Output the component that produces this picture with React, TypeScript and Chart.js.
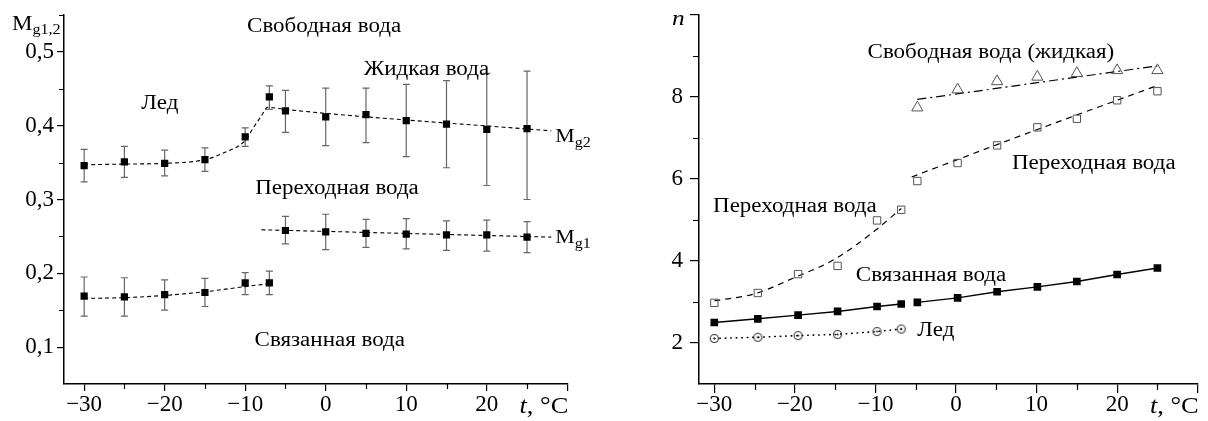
import React, { useEffect, useRef } from "react";
import { Chart, registerables } from "chart.js";

Chart.register(...registerables);

const FONT = '"Liberation Serif", "Times New Roman", serif';

// ---------- Left panel data (M_g1, M_g2 vs t) ----------
const tempAll = [-30, -25, -20, -15, -10, -7, -5, 0, 5, 10, 15, 20, 25];
const mg2 = [0.346, 0.351, 0.349, 0.354, 0.385, 0.439, 0.42, 0.412, 0.415, 0.407, 0.402, 0.395, 0.396];
const mg2Hi = [0.368, 0.372, 0.367, 0.37, 0.397, 0.454, 0.448, 0.451, 0.451, 0.456, 0.461, 0.471, 0.474];
const mg2Lo = [0.324, 0.33, 0.332, 0.338, 0.372, 0.422, 0.391, 0.373, 0.377, 0.358, 0.343, 0.319, 0.3];
const mg2FitT = [-30, -25, -20, -15, -12.5, -10, -9, -8, -7.2, -5, 28];
const mg2FitV = [0.347, 0.348, 0.349, 0.354, 0.364, 0.38, 0.397, 0.413, 0.425, 0.422, 0.393];

const tempLow = [-30, -25, -20, -15, -10, -7];
const tempHigh = [-5, 0, 5, 10, 15, 20, 25];
const mg1Low = [0.169, 0.168, 0.171, 0.174, 0.187, 0.187];
const mg1LowHi = [0.195, 0.194, 0.191, 0.193, 0.201, 0.203];
const mg1LowLo = [0.142, 0.142, 0.15, 0.155, 0.171, 0.171];
const mg1High = [0.258, 0.256, 0.254, 0.253, 0.252, 0.252, 0.249];
const mg1HighHi = [0.277, 0.28, 0.273, 0.274, 0.271, 0.272, 0.27];
const mg1HighLo = [0.24, 0.232, 0.235, 0.233, 0.231, 0.23, 0.228];
const mg1LowFitT = [-30, -25, -20, -15, -10, -7];
const mg1LowFitV = [0.166, 0.167, 0.17, 0.175, 0.182, 0.186];
const mg1HighFitT = [-8, 28];
const mg1HighFitV = [0.259, 0.249];

const leftXTicks = [-30, -25, -20, -15, -10, -5, 0, 5, 10, 15, 20, 25, 30];
const leftXMajor = [-30, -20, -10, 0, 10, 20, 30];
const leftXLabels = [-30, -20, -10, 0, 10, 20];
const leftYTicks = [0.1, 0.15, 0.2, 0.25, 0.3, 0.35, 0.4, 0.45, 0.5, 0.55];
const leftYMajor = [0.1, 0.2, 0.3, 0.4, 0.5];
const leftYLabels = [0.1, 0.2, 0.3, 0.4, 0.5];

// ---------- Right panel data (n vs t) ----------
const tLowR = [-30, -24.6, -19.6, -14.7, -9.8, -6.8];
const tHighR = [-4.8, 0.2, 5.1, 10.1, 15, 20, 25];
const boundLow = [2.5, 2.59, 2.68, 2.77, 2.89, 2.95];
const boundHigh = [2.99, 3.1, 3.25, 3.37, 3.5, 3.67, 3.83];
const iceN = [2.11, 2.14, 2.18, 2.21, 2.28, 2.34];
const transLow = [2.98, 3.22, 3.68, 3.88, 4.99, 5.25];
const transHigh = [5.95, 6.39, 6.82, 7.26, 7.47, 7.92, 8.14];
const freeN = [7.74, 8.18, 8.38, 8.49, 8.58, 8.65, 8.65];
const transLowFitT = [-30, -25, -20, -15, -10, -6.8];
const transLowFitV = [3.03, 3.2, 3.6, 4.05, 4.75, 5.28];
const transHighFitT = [-5.5, 10, 25];
const transHighFitV = [6.05, 7.2, 8.28];
const freeFitT = [-4.8, 25];
const freeFitV = [7.94, 8.76];

const rightXTicks = [-30, -25, -20, -15, -10, -5, 0, 5, 10, 15, 20, 25, 30];
const rightXMajor = [-30, -20, -10, 0, 10, 20, 30];
const rightXLabels = [-30, -20, -10, 0, 10, 20];
const rightYTicks = [2, 3, 4, 5, 6, 7, 8, 9, 10];
const rightYMajor = [2, 4, 6, 8, 10];
const rightYLabels = [2, 4, 6, 8];

// ---------- helpers ----------
const pts = (xs: number[], ys: number[]) => xs.map((x, i) => ({ x, y: ys[i] }));
const has = (arr: number[], v: number) => arr.some((a) => Math.abs(a - v) < 1e-9);
const fmtT = (v: number) => (v < 0 ? "\u2212" + Math.abs(v) : String(v));

type Part = { text: string; size: number; italic?: boolean; dy?: number };

function drawParts(ctx: CanvasRenderingContext2D, parts: Part[], x: number, y: number, align: string, stretch: number) {
  ctx.save();
  let total = 0;
  const widths = parts.map((p) => {
    ctx.font = `${p.italic ? "italic " : ""}${p.size}px ${FONT}`;
    const w = ctx.measureText(p.text).width * stretch;
    total += w;
    return w;
  });
  let cx = align === "center" ? x - total / 2 : align === "right" ? x - total : x;
  ctx.fillStyle = "#000";
  ctx.textBaseline = "alphabetic";
  ctx.textAlign = "left";
  parts.forEach((p, i) => {
    ctx.font = `${p.italic ? "italic " : ""}${p.size}px ${FONT}`;
    ctx.save();
    ctx.translate(cx, y + (p.dy || 0));
    ctx.scale(stretch, 1);
    ctx.fillText(p.text, 0, 0);
    ctx.restore();
    cx += widths[i];
  });
  ctx.restore();
}

type Note = { parts: Part[]; x: number; y: number; align: string };
type Title = { parts: Part[]; dx: number; dy: number; anchor: string; align: string };

function makeNotesPlugin(notes: Note[], titles: Title[], stretch: number) {
  return {
    id: "notes",
    afterDraw(chart: any) {
      const ctx = chart.ctx as CanvasRenderingContext2D;
      const xs = chart.scales.x;
      const ys = chart.scales.y;
      const a = chart.chartArea;
      notes.forEach((n) => {
        drawParts(ctx, n.parts, xs.getPixelForValue(n.x), ys.getPixelForValue(n.y), n.align, stretch);
      });
      titles.forEach((t) => {
        const bx = t.anchor === "topleft" ? a.left : a.right;
        const by = t.anchor === "topleft" ? a.top : a.bottom;
        drawParts(ctx, t.parts, bx + t.dx, by + t.dy, t.align, stretch);
      });
    },
  };
}

function makeMinorTickPlugin(xMinor: number[], yMinor: number[], len: number) {
  return {
    id: "minorTicks",
    afterDraw(chart: any) {
      const ctx = chart.ctx as CanvasRenderingContext2D;
      const xs = chart.scales.x;
      const ys = chart.scales.y;
      const a = chart.chartArea;
      ctx.save();
      ctx.strokeStyle = "#000";
      ctx.lineWidth = 1.2;
      ctx.beginPath();
      xMinor.forEach((v) => {
        const px = Math.round(xs.getPixelForValue(v)) + 0.5;
        ctx.moveTo(px, a.bottom);
        ctx.lineTo(px, a.bottom + len);
      });
      yMinor.forEach((v) => {
        const py = Math.round(ys.getPixelForValue(v)) + 0.5;
        ctx.moveTo(a.left, py);
        ctx.lineTo(a.left - len, py);
      });
      ctx.stroke();
      ctx.restore();
    },
  };
}

function makeErrPlugin(sets: { xs: number[]; hi: number[]; lo: number[] }[]) {
  return {
    id: "errbars",
    beforeDatasetsDraw(chart: any) {
      const ctx = chart.ctx as CanvasRenderingContext2D;
      const xs = chart.scales.x;
      const ys = chart.scales.y;
      ctx.save();
      ctx.strokeStyle = "#666";
      ctx.lineWidth = 1.2;
      sets.forEach((s) => {
        s.xs.forEach((x, i) => {
          const px = xs.getPixelForValue(x);
          const y1 = ys.getPixelForValue(s.hi[i]);
          const y2 = ys.getPixelForValue(s.lo[i]);
          ctx.beginPath();
          ctx.moveTo(px, y1);
          ctx.lineTo(px, y2);
          ctx.moveTo(px - 3.5, y1);
          ctx.lineTo(px + 3.5, y1);
          ctx.moveTo(px - 3.5, y2);
          ctx.lineTo(px + 3.5, y2);
          ctx.stroke();
        });
      });
      ctx.restore();
    },
  };
}

function axisScales(
  xMin: number, xMax: number, xTicks: number[], xMajor: number[], xLabels: number[],
  yMin: number, yMax: number, yTicks: number[], yMajor: number[], yLabels: number[],
  yFmt: (v: number) => string, yWidth: number, tickLen: number, xPad: number, yPad: number
) {
  const grid = (major: number[]) => ({
    display: true,
    drawOnChartArea: false,
    drawTicks: true,
    tickLength: tickLen,
    color: "#000",
    lineWidth: 1.2,
    tickColor: (c: any) => (c.tick && has(major, c.tick.value) ? "#000" : "rgba(0,0,0,0)"),
  });
  const border = { display: true, color: "#000", width: 1.5 };
  return {
    x: {
      type: "linear",
      min: xMin,
      max: xMax,
      border,
      grid: grid(xMajor),
      ticks: {
        color: "#000",
        font: { family: FONT, size: 23 },
        padding: xPad,
        maxRotation: 0,
        autoSkip: false,
        callback: (v: number) => (has(xLabels, v) ? fmtT(v) : ""),
      },
      afterBuildTicks: (s: any) => {
        s.ticks = xTicks.map((v) => ({ value: v }));
      },
      afterFit: (s: any) => {
        s.height = 37;
        s.paddingLeft = 0;
        s.paddingRight = 0;
      },
    },
    y: {
      type: "linear",
      min: yMin,
      max: yMax,
      border,
      grid: grid(yMajor),
      ticks: {
        color: "#000",
        font: { family: FONT, size: 23 },
        padding: yPad,
        autoSkip: false,
        callback: (v: number) => (has(yLabels, v) ? yFmt(v) : ""),
      },
      afterBuildTicks: (s: any) => {
        s.ticks = yTicks.map((v) => ({ value: v }));
      },
      afterFit: (s: any) => {
        s.width = yWidth;
        s.paddingTop = 0;
        s.paddingBottom = 0;
      },
    },
  };
}

const markerBlack = (data: any, r: number) => ({
  data,
  showLine: false,
  pointStyle: "rect",
  pointRadius: r,
  pointBackgroundColor: "#000",
  pointBorderColor: "#000",
  pointBorderWidth: 0,
});

const fitLine = (data: any, dash: number[], width = 1.1) => ({
  data,
  showLine: true,
  pointRadius: 0,
  borderColor: "#000",
  borderWidth: width,
  borderDash: dash,
  tension: 0.4,
  cubicInterpolationMode: "monotone",
  fill: false,
});

function leftConfig(): any {
  const notes: Note[] = [
    { parts: [{ text: "Свободная вода", size: 20 }], x: -0.2, y: 0.5267, align: "center" },
    { parts: [{ text: "Жидкая вода", size: 20 }], x: 12.5, y: 0.4684, align: "center" },
    { parts: [{ text: "Лед", size: 20 }], x: -20.6, y: 0.423, align: "center" },
    { parts: [{ text: "Переходная вода", size: 20 }], x: 1.4, y: 0.308, align: "center" },
    { parts: [{ text: "Связанная вода", size: 20 }], x: 0.5, y: 0.102, align: "center" },
    { parts: [{ text: "M", size: 19 }, { text: "g2", size: 14, dy: 5 }], x: 28.5, y: 0.378, align: "left" },
    { parts: [{ text: "M", size: 19 }, { text: "g1", size: 14, dy: 5 }], x: 28.5, y: 0.2404, align: "left" },
  ];
  const titles: Title[] = [
    { parts: [{ text: "M", size: 20 }, { text: "g1,2", size: 14, dy: 4 }], dx: -52, dy: 15, anchor: "topleft", align: "left" },
    { parts: [{ text: "t", size: 23, italic: true }, { text: ", °C", size: 23 }], dx: 1, dy: 29, anchor: "bottomright", align: "right" },
  ];
  return {
    type: "line",
    data: {
      datasets: [
        markerBlack(pts(tempAll, mg2), 5.1),
        markerBlack(pts(tempLow, mg1Low), 5.1),
        markerBlack(pts(tempHigh, mg1High), 5.1),
        fitLine(pts(mg2FitT, mg2FitV), [4, 3]),
        fitLine(pts(mg1LowFitT, mg1LowFitV), [4, 3]),
        fitLine(pts(mg1HighFitT, mg1HighFitV), [4, 3]),
      ],
    },
    options: {
      responsive: false,
      animation: false,
      devicePixelRatio: 1,
      layout: { padding: { top: 15, right: 32.7, left: 0, bottom: 0 } },
      plugins: { legend: { display: false }, tooltip: { enabled: false } },
      scales: axisScales(-32.5, 30, leftXTicks, leftXMajor, leftXLabels, 0.05, 0.55, leftYTicks, leftYMajor, leftYLabels,
        (v) => v.toFixed(1).replace(".", ","), 64, 7, 0, 3),
    },
    plugins: [
      makeErrPlugin([
        { xs: tempAll, hi: mg2Hi, lo: mg2Lo },
        { xs: tempLow, hi: mg1LowHi, lo: mg1LowLo },
        { xs: tempHigh, hi: mg1HighHi, lo: mg1HighLo },
      ]),
      makeMinorTickPlugin(
        leftXTicks.filter((v) => !has(leftXMajor, v)),
        leftYTicks.filter((v) => !has(leftYMajor, v)),
        5
      ),
      makeNotesPlugin(notes, titles, 1.15),
    ],
  };
}

function circleDot(): HTMLCanvasElement {
  const c = document.createElement("canvas");
  c.width = 11;
  c.height = 11;
  const g = c.getContext("2d")!;
  g.strokeStyle = "#333";
  g.lineWidth = 1.1;
  g.beginPath();
  g.arc(5.5, 5.5, 4, 0, Math.PI * 2);
  g.stroke();
  g.fillStyle = "#111";
  g.beginPath();
  g.arc(5.5, 5.5, 1, 0, Math.PI * 2);
  g.fill();
  return c;
}

function rightConfig(): any {
  const notes: Note[] = [
    { parts: [{ text: "Свободная вода (жидкая)", size: 20 }], x: 4.33, y: 8.946, align: "center" },
    { parts: [{ text: "Переходная вода", size: 20 }], x: 17.1, y: 6.25, align: "center" },
    { parts: [{ text: "Переходная вода", size: 20 }], x: -20.0, y: 5.19, align: "center" },
    { parts: [{ text: "Связанная вода", size: 20 }], x: -3.1, y: 3.52, align: "center" },
    { parts: [{ text: "Лед", size: 20 }], x: -2.5, y: 2.17, align: "center" },
  ];
  const titles: Title[] = [
    { parts: [{ text: "n", size: 22, italic: true }], dx: -27, dy: 10, anchor: "topleft", align: "left" },
    { parts: [{ text: "t", size: 23, italic: true }, { text: ", °C", size: 23 }], dx: 1, dy: 29, anchor: "bottomright", align: "right" },
  ];
  const dot = circleDot();
  const openRect = (data: any) => ({
    data,
    showLine: false,
    pointStyle: "rect",
    pointRadius: 5.2,
    pointBackgroundColor: "rgba(0,0,0,0)",
    pointBorderColor: "#555",
    pointBorderWidth: 1,
  });
  const boundLine = (data: any) => ({
    data,
    showLine: true,
    borderColor: "#000",
    borderWidth: 1.4,
    pointStyle: "rect",
    pointRadius: 5.4,
    pointBackgroundColor: "#000",
    pointBorderColor: "#000",
    pointBorderWidth: 0,
    tension: 0,
  });
  return {
    type: "line",
    data: {
      datasets: [
        boundLine(pts(tLowR, boundLow)),
        boundLine(pts(tHighR, boundHigh)),
        {
          data: pts(tLowR, iceN),
          showLine: true,
          borderColor: "#000",
          borderWidth: 1.6,
          borderDash: [0.5, 5],
          borderCapStyle: "round",
          pointStyle: dot,
          pointRadius: 5,
        },
        openRect(pts(tLowR, transLow)),
        openRect(pts(tHighR, transHigh)),
        {
          data: pts(tHighR, freeN),
          showLine: false,
          pointStyle: "triangle",
          pointRadius: 6.5,
          pointBackgroundColor: "rgba(0,0,0,0)",
          pointBorderColor: "#555",
          pointBorderWidth: 1,
        },
        fitLine(pts(transLowFitT, transLowFitV), [6, 5], 1.2),
        fitLine(pts(transHighFitT, transHighFitV), [6, 5], 1.2),
        fitLine(pts(freeFitT, freeFitV), [9, 4, 2, 4], 1.2),
      ],
    },
    options: {
      responsive: false,
      animation: false,
      devicePixelRatio: 1,
      layout: { padding: { top: 15, right: 10.3, left: 0, bottom: 0 } },
      plugins: { legend: { display: false }, tooltip: { enabled: false } },
      scales: axisScales(-31.9, 30, rightXTicks, rightXMajor, rightXLabels, 1, 10, rightYTicks, rightYMajor, rightYLabels,
        (v) => String(v), 99, 9, -2, 7),
    },
    plugins: [
      makeMinorTickPlugin(
        rightXTicks.filter((v) => !has(rightXMajor, v)),
        rightYTicks.filter((v) => !has(rightYMajor, v)),
        6
      ),
      makeNotesPlugin(notes, titles, 1.15),
    ],
  };
}

function Panel({ left, width, make }: { left: number; width: number; make: () => any }) {
  const ref = useRef<HTMLCanvasElement>(null);
  useEffect(() => {
    const chart = new Chart(ref.current as HTMLCanvasElement, make());
    return () => chart.destroy();
  }, []);
  return (
    <div style={{ position: "absolute", left, top: 0, width, height: 421 }}>
      <canvas ref={ref} width={width} height={421} style={{ display: "block", width, height: 421 }} />
    </div>
  );
}

export default function App() {
  return (
    <div style={{ position: "fixed", left: 0, top: 0, width: 1208, height: 421, background: "#fff", overflow: "hidden" }}>
      <Panel left={0} width={600} make={leftConfig} />
      <Panel left={600} width={608} make={rightConfig} />
    </div>
  );
}
